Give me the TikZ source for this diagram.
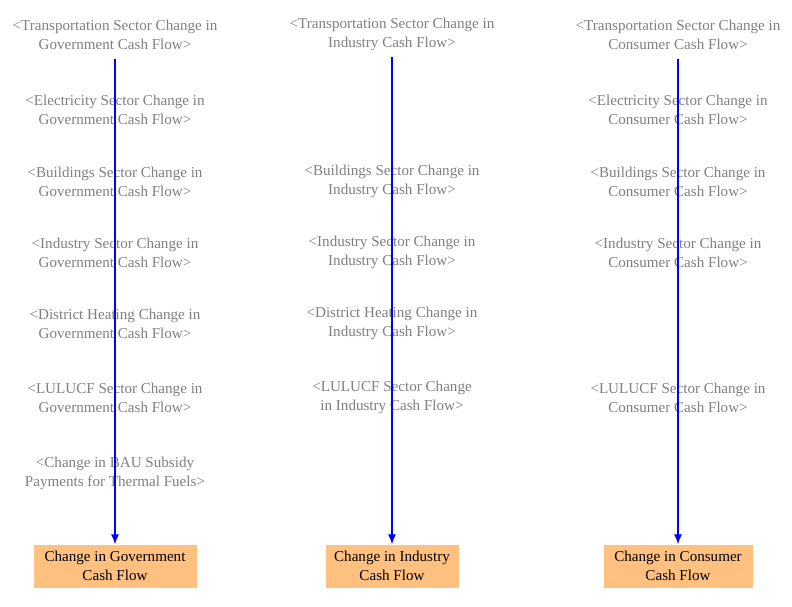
\documentclass[tikz,border=0pt]{standalone}
\usepackage{fontspec}
\setmainfont{Liberation Serif}
\usetikzlibrary{arrows.meta}
\definecolor{boxfill}{HTML}{FFC080}
\tikzset{
  shadow/.style={text=black!50, align=center, inner sep=0pt, font=\fontsize{15.1}{19}\selectfont},
  level/.style={fill=boxfill, align=center, minimum height=43pt, inner sep=0pt, font=\fontsize{15.1}{19}\selectfont},
  link/.style={draw=blue, line width=1.2pt, -{Latex[length=10pt,width=8pt]}, shorten <=9pt}
}
\begin{document}
\begin{tikzpicture}[x=1pt, y=-1pt]
\useasboundingbox (0,0) rectangle (792,606);
% nodes
\node[shadow] (tG) at (115, 34.5) {<Transportation Sector Change in\\Government Cash Flow>};
\node[shadow] (eG) at (115, 109.5) {<Electricity Sector Change in\\Government Cash Flow>};
\node[shadow] (bG) at (115, 181.5) {<Buildings Sector Change in\\Government Cash Flow>};
\node[shadow] (iG) at (115, 252.5) {<Industry Sector Change in\\Government Cash Flow>};
\node[shadow] (dG) at (115, 323.5) {<District Heating Change in\\Government Cash Flow>};
\node[shadow] (lG) at (115, 397.5) {<LULUCF Sector Change in\\Government Cash Flow>};
\node[shadow] (sG) at (115, 473.5) {<Change in BAU Subsidy\\Payments for Thermal Fuels>};

\node[shadow] (tI) at (392, 34.5) {<Transportation Sector Change in\\Industry Cash Flow>};
\node[shadow] (bI) at (392, 181.5) {<Buildings Sector Change in\\Industry Cash Flow>};
\node[shadow] (iI) at (392, 252.5) {<Industry Sector Change in\\Industry Cash Flow>};
\node[shadow] (dI) at (392, 323.5) {<District Heating Change in\\Industry Cash Flow>};
\node[shadow] (lI) at (392, 397.5) {<LULUCF Sector Change\\in Industry Cash Flow>};

\node[shadow] (tC) at (678, 34.5) {<Transportation Sector Change in\\Consumer Cash Flow>};
\node[shadow] (eC) at (678, 109.5) {<Electricity Sector Change in\\Consumer Cash Flow>};
\node[shadow] (bC) at (678, 181.5) {<Buildings Sector Change in\\Consumer Cash Flow>};
\node[shadow] (iC) at (678, 252.5) {<Industry Sector Change in\\Consumer Cash Flow>};
\node[shadow] (lC) at (678, 397.5) {<LULUCF Sector Change in\\Consumer Cash Flow>};

\node[level, minimum width=163pt] (gov) at (115, 566) {Change in Government\\Cash Flow};
\node[level, minimum width=133pt] (ind) at (392, 566) {Change in Industry\\Cash Flow};
\node[level, minimum width=149pt] (con) at (678, 566) {Change in Consumer\\Cash Flow};

% arrows
\draw[link] (tG) -- (gov);
\draw[link, shorten <=6pt] (tI) -- (ind);
\draw[link] (tC) -- (con);
\end{tikzpicture}
\end{document}
